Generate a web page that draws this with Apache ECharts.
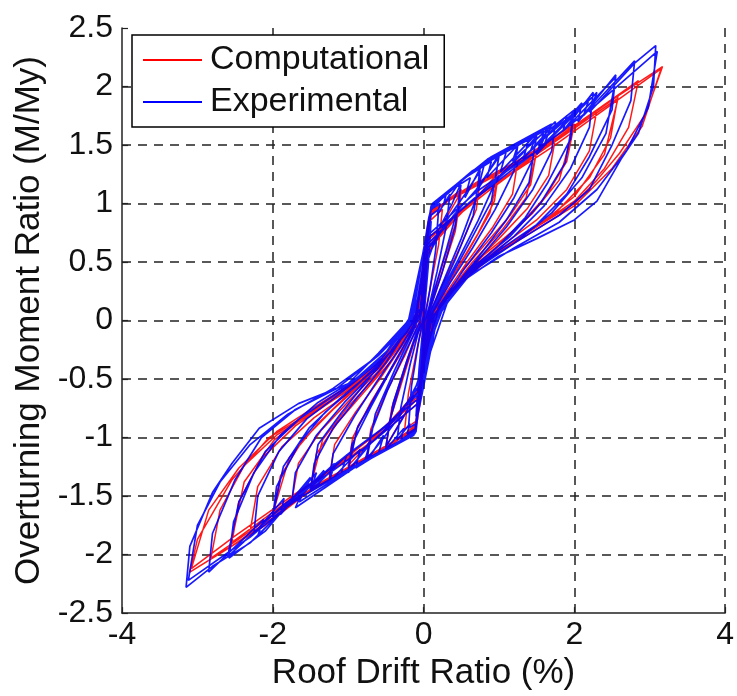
<!DOCTYPE html>
<html>
<head>
<meta charset="utf-8">
<script src="https://cdn.jsdelivr.net/npm/echarts@6/dist/echarts.min.js"></script>
<style>
  html, body { margin: 0; padding: 0; background: #fff; }
  #main { width: 737px; height: 696px; }
</style>
</head>
<body>
<div id="main"></div>
<script>
// axis ticks
let xTicks = [-4, -2, 0, 2, 4];
let yTicks = [-2.5, -2, -1.5, -1, -0.5, 0, 0.5, 1, 1.5, 2, 2.5];

// experimental loops, [drift %, M/My]
let exp1 = [[0,0],[0.05,0.6],[0.1,0.85],[0.06,0.45],[0,0],[-0.05,-0.55],[-0.1,-0.82],[-0.06,-0.42],[0,0]];
let exp2 = [[0.05,0.7],[0.1,0.9],[0.2,0.95],[0.16,0.6],[0.08,0.25],[0,-0.05],[-0.05,-0.62],[-0.1,-0.88],[-0.2,-0.92],[-0.16,-0.56],[-0.07,-0.2],[0,0.05]];
let exp3 = [[0.05,0.75],[0.1,0.95],[0.22,1.0],[0.18,0.9],[0.35,1.08],[0.3,0.8],[0.18,0.42],[0.06,0.08],[0,-0.3],[-0.1,-0.92],[-0.22,-0.97],[-0.18,-0.88],[-0.35,-1.02],[-0.3,-0.74],[-0.18,-0.38],[-0.05,-0.05]];
let exp4 = [[0.04,0.62],[0.09,0.94],[0.3,1.08],[0.26,0.98],[0.5,1.2],[0.45,0.95],[0.3,0.6],[0.14,0.25],[0.02,0],[-0.05,-0.6],[-0.1,-0.93],[-0.3,-1.02],[-0.26,-0.92],[-0.5,-1.1],[-0.45,-0.86],[-0.3,-0.52],[-0.13,-0.18],[0,0]];
let exp5 = [[0.05,0.5],[0.2,0.78],[0.38,1.0],[0.5,1.18],[0.42,0.8],[0.25,0.42],[0.08,0.08],[-0.04,-0.45],[-0.2,-0.75],[-0.38,-0.95],[-0.5,-1.08],[-0.4,-0.7],[-0.2,-0.3],[-0.04,0]];
let exp6 = [[0.05,0.75],[0.1,0.96],[0.4,1.13],[0.62,1.22],[0.55,1.05],[0.75,1.3],[0.7,1.05],[0.5,0.7],[0.28,0.36],[0.08,0.05],[-0.04,-0.6],[-0.1,-0.94],[-0.4,-1.07],[-0.6,-1.14],[-0.53,-0.98],[-0.75,-1.2],[-0.7,-0.96],[-0.48,-0.6],[-0.25,-0.28],[-0.04,0]];
let exp7 = [[0.06,0.55],[0.3,0.85],[0.55,1.08],[0.75,1.28],[0.66,0.9],[0.42,0.52],[0.15,0.14],[-0.05,-0.5],[-0.3,-0.8],[-0.55,-1.02],[-0.75,-1.18],[-0.64,-0.8],[-0.38,-0.42],[-0.1,-0.04]];
let exp8 = [[0.05,0.78],[0.1,0.97],[0.5,1.2],[0.8,1.32],[0.72,1.12],[1.0,1.42],[0.95,1.18],[0.72,0.85],[0.46,0.52],[0.2,0.2],[0.04,-0.05],[-0.03,-0.5],[-0.1,-0.95],[-0.5,-1.1],[-0.78,-1.2],[-0.7,-1.02],[-1.0,-1.3],[-0.95,-1.06],[-0.7,-0.74],[-0.45,-0.44],[-0.18,-0.12],[-0.02,0.1]];
let exp9 = [[0.05,0.6],[0.4,0.9],[0.7,1.12],[1.0,1.4],[0.9,1.02],[0.62,0.68],[0.32,0.32],[0.06,0.02],[-0.05,-0.55],[-0.4,-0.86],[-0.7,-1.05],[-1.0,-1.28],[-0.88,-0.92],[-0.6,-0.6],[-0.3,-0.26],[-0.03,0.05]];
let exp10 = [[0.06,0.8],[0.1,0.98],[0.55,1.22],[0.9,1.36],[0.84,1.22],[1.25,1.5],[1.2,1.28],[0.95,0.95],[0.65,0.62],[0.35,0.32],[0.1,0.04],[-0.04,-0.55],[-0.11,-0.95],[-0.55,-1.12],[-0.9,-1.26],[-0.84,-1.1],[-1.25,-1.38],[-1.2,-1.14],[-0.92,-0.82],[-0.62,-0.52],[-0.3,-0.22],[-0.05,0.05]];
let exp11 = [[0.06,0.8],[0.1,0.98],[0.6,1.25],[1.1,1.45],[1.02,1.27],[1.5,1.6],[1.45,1.38],[1.2,1.05],[0.9,0.75],[0.55,0.45],[0.2,0.12],[0.02,-0.3],[-0.11,-0.95],[-0.6,-1.14],[-1.1,-1.32],[-1.02,-1.15],[-1.5,-1.46],[-1.45,-1.22],[-1.2,-0.92],[-0.88,-0.66],[-0.5,-0.36],[-0.2,-0.06],[-0.02,0.3]];
let exp12 = [[0.05,0.62],[0.45,0.92],[0.95,1.2],[1.3,1.42],[1.5,1.58],[1.4,1.18],[1.1,0.86],[0.7,0.52],[0.3,0.2],[0.04,-0.05],[-0.06,-0.6],[-0.45,-0.88],[-0.95,-1.12],[-1.3,-1.3],[-1.5,-1.44],[-1.4,-1.06],[-1.08,-0.78],[-0.68,-0.46],[-0.28,-0.14],[0,0.1]];
let exp13 = [[0.06,0.82],[0.1,0.98],[0.65,1.28],[1.25,1.5],[1.18,1.36],[1.75,1.7],[1.7,1.45],[1.45,1.12],[1.1,0.8],[0.7,0.5],[0.3,0.2],[0.03,-0.2],[-0.11,-0.96],[-0.65,-1.16],[-1.25,-1.38],[-1.18,-1.22],[-1.75,-1.56],[-1.7,-1.3],[-1.42,-0.98],[-1.05,-0.7],[-0.62,-0.42],[-0.25,-0.1],[-0.03,0.25]];
let exp14 = [[0.06,0.82],[0.1,0.98],[0.7,1.3],[1.4,1.55],[1.32,1.38],[1.65,1.62],[2.0,1.8],[1.95,1.55],[1.65,1.18],[1.35,0.88],[1.0,0.64],[0.55,0.38],[0.15,0.06],[0,-0.45],[-0.11,-0.96],[-0.7,-1.17],[-1.4,-1.42],[-1.32,-1.28],[-1.65,-1.52],[-2.0,-1.68],[-1.95,-1.42],[-1.65,-1.05],[-1.3,-0.78],[-0.9,-0.56],[-0.45,-0.28],[-0.1,0.02]];
let exp15 = [[0.05,0.65],[0.5,0.95],[1.0,1.22],[1.5,1.5],[2.0,1.78],[1.88,1.35],[1.55,1.0],[1.15,0.72],[0.7,0.48],[0.25,0.15],[0.03,-0.1],[-0.06,-0.62],[-0.5,-0.9],[-1.0,-1.14],[-1.5,-1.4],[-2.0,-1.66],[-1.86,-1.25],[-1.52,-0.92],[-1.1,-0.66],[-0.65,-0.42],[-0.22,-0.1],[0,0.15]];
let exp16 = [[0.07,0.84],[0.11,0.99],[0.75,1.32],[1.5,1.6],[1.42,1.45],[1.9,1.75],[1.85,1.62],[2.25,1.95],[2.2,1.65],[1.95,1.3],[1.6,0.98],[1.2,0.72],[0.75,0.48],[0.3,0.18],[0.02,-0.3],[-0.12,-0.96],[-0.75,-1.18],[-1.5,-1.45],[-1.42,-1.3],[-1.9,-1.66],[-1.85,-1.52],[-2.25,-1.82],[-2.2,-1.5],[-1.92,-1.12],[-1.55,-0.84],[-1.1,-0.62],[-0.6,-0.36],[-0.18,-0.02]];
let exp17 = [[0.07,0.85],[0.11,0.99],[0.8,1.35],[1.6,1.62],[1.5,1.42],[2.1,1.86],[2.05,1.7],[2.55,2.1],[2.5,1.8],[2.2,1.4],[1.9,1.08],[1.5,0.82],[1.0,0.6],[0.5,0.36],[0.15,0.05],[0,-0.5],[-0.12,-0.97],[-0.8,-1.2],[-1.6,-1.5],[-1.5,-1.34],[-2.1,-1.8],[-2.58,-2.03],[-2.52,-1.72],[-2.25,-1.3],[-1.9,-0.98],[-1.4,-0.7],[-0.9,-0.5],[-0.45,-0.24],[-0.12,0.02]];
let exp18 = [[0.05,0.7],[0.6,1.0],[1.2,1.3],[1.9,1.65],[2.55,2.08],[2.42,1.6],[2.1,1.22],[1.7,0.92],[1.2,0.66],[0.65,0.42],[0.2,0.08],[-0.06,-0.66],[-0.6,-0.95],[-1.2,-1.24],[-1.9,-1.6],[-2.6,-2.02],[-2.45,-1.55],[-2.1,-1.12],[-1.65,-0.84],[-1.1,-0.6],[-0.55,-0.32],[-0.08,0.12]];
let exp19 = [[0.07,0.86],[0.12,1.0],[0.85,1.38],[1.65,1.65],[1.55,1.48],[2.2,1.9],[2.12,1.75],[2.8,2.22],[2.75,1.88],[2.5,1.5],[2.2,1.12],[1.8,0.9],[1.3,0.7],[0.8,0.5],[0.35,0.22],[0.02,-0.4],[-0.12,-0.97],[-0.85,-1.22],[-1.65,-1.55],[-1.55,-1.4],[-2.2,-1.84],[-2.12,-1.7],[-2.85,-2.15],[-2.8,-1.82],[-2.5,-1.36],[-2.15,-1.0],[-1.7,-0.76],[-1.15,-0.58],[-0.6,-0.3],[-0.15,0.0]];
let exp20 = [[0.07,0.88],[0.12,1.0],[0.9,1.4],[1.7,1.68],[1.6,1.5],[2.3,1.95],[2.2,1.78],[2.8,2.2],[3.08,2.35],[3.05,2.0],[2.85,1.6],[2.62,1.38],[2.3,1.02],[2.0,0.86],[1.5,0.7],[1.0,0.55],[0.5,0.33],[0.18,0.02],[0.02,-0.5],[-0.13,-0.98],[-0.9,-1.25],[-1.7,-1.6],[-1.6,-1.45],[-2.3,-1.9],[-2.8,-2.1],[-3.15,-2.28],[-3.1,-1.93],[-2.8,-1.47],[-2.54,-1.22],[-2.18,-0.92],[-1.66,-0.71],[-1.0,-0.54],[-0.6,-0.28],[-0.2,0.0]];
let exp21 = [[0.04,0.72],[0.7,1.1],[1.5,1.45],[2.3,1.85],[3.1,2.3],[2.98,1.82],[2.7,1.46],[2.3,1.12],[1.8,0.84],[1.2,0.62],[0.6,0.38],[0.15,0.02],[-0.06,-0.7],[-0.7,-1.05],[-1.5,-1.42],[-2.3,-1.85],[-3.12,-2.22],[-3.0,-1.75],[-2.7,-1.38],[-2.3,-1.06],[-1.8,-0.8],[-1.2,-0.58],[-0.6,-0.3],[-0.1,0.05]];

// computational loops
let comp1 = [[0,0],[0.04,0.6],[0.08,0.85],[0.25,0.95],[0.2,0.65],[0.08,0.25],[0,0],[-0.04,-0.6],[-0.08,-0.85],[-0.25,-0.93],[-0.2,-0.62],[-0.08,-0.22],[0,0]];
let comp2 = [[0.05,0.72],[0.09,0.9],[0.3,1.02],[0.5,1.12],[0.45,0.88],[0.3,0.58],[0.12,0.2],[0.01,-0.02],[-0.05,-0.7],[-0.09,-0.88],[-0.3,-1.0],[-0.5,-1.1],[-0.45,-0.86],[-0.3,-0.55],[-0.12,-0.18],[0,0.02]];
let comp3 = [[0.05,0.55],[0.25,0.82],[0.5,1.1],[0.42,0.76],[0.22,0.36],[0.03,0],[-0.05,-0.55],[-0.25,-0.8],[-0.5,-1.08],[-0.42,-0.74],[-0.22,-0.34],[-0.02,0]];
let comp4 = [[0.05,0.74],[0.1,0.91],[0.4,1.06],[0.75,1.2],[0.7,0.95],[0.5,0.65],[0.26,0.32],[0.06,0.03],[-0.05,-0.72],[-0.1,-0.9],[-0.4,-1.04],[-0.75,-1.18],[-0.7,-0.93],[-0.5,-0.62],[-0.25,-0.3],[-0.05,0]];
let comp5 = [[0.05,0.75],[0.1,0.92],[0.5,1.1],[1.0,1.28],[0.94,1.02],[0.72,0.74],[0.45,0.45],[0.18,0.14],[0,-0.3],[-0.1,-0.9],[-0.5,-1.08],[-1.0,-1.25],[-0.94,-1.0],[-0.7,-0.7],[-0.42,-0.4],[-0.15,-0.1],[0,0.3]];
let comp6 = [[0.06,0.6],[0.4,0.85],[0.7,1.05],[1.0,1.27],[0.88,0.92],[0.6,0.6],[0.3,0.28],[0.05,0],[-0.05,-0.58],[-0.4,-0.83],[-0.7,-1.03],[-1.0,-1.24],[-0.87,-0.9],[-0.58,-0.58],[-0.28,-0.26],[-0.02,0.1]];
let comp7 = [[0.06,0.77],[0.1,0.92],[0.55,1.12],[1.25,1.36],[1.18,1.08],[0.92,0.8],[0.6,0.52],[0.28,0.22],[0.04,-0.1],[-0.1,-0.9],[-0.55,-1.1],[-1.25,-1.34],[-1.18,-1.06],[-0.9,-0.78],[-0.58,-0.5],[-0.25,-0.18],[-0.02,0.2]];
let comp8 = [[0.06,0.78],[0.1,0.93],[0.6,1.14],[1.0,1.28],[1.5,1.45],[1.42,1.16],[1.15,0.9],[0.8,0.64],[0.45,0.38],[0.12,0.06],[0,-0.35],[-0.1,-0.91],[-0.6,-1.12],[-1.0,-1.26],[-1.5,-1.43],[-1.42,-1.14],[-1.15,-0.88],[-0.8,-0.62],[-0.42,-0.34],[-0.1,-0.02]];
let comp9 = [[0.05,0.62],[0.5,0.92],[1.0,1.18],[1.5,1.44],[1.36,1.05],[1.05,0.78],[0.65,0.5],[0.28,0.2],[0.02,-0.05],[-0.06,-0.6],[-0.5,-0.9],[-1.0,-1.16],[-1.5,-1.42],[-1.34,-1.02],[-1.02,-0.75],[-0.62,-0.47],[-0.25,-0.16],[0,0.1]];
let comp10 = [[0.06,0.79],[0.1,0.93],[0.65,1.15],[1.2,1.35],[1.75,1.56],[1.66,1.24],[1.38,0.96],[1.0,0.7],[0.6,0.44],[0.22,0.14],[0.02,-0.3],[-0.1,-0.92],[-0.65,-1.14],[-1.2,-1.33],[-1.75,-1.54],[-1.66,-1.22],[-1.36,-0.94],[-0.98,-0.68],[-0.58,-0.42],[-0.2,-0.1],[0,0.2]];
let comp11 = [[0.06,0.8],[0.1,0.93],[0.7,1.17],[1.3,1.38],[2.0,1.68],[1.9,1.36],[1.62,1.06],[1.25,0.8],[0.8,0.56],[0.35,0.26],[0.08,0.02],[0,-0.4],[-0.1,-0.92],[-0.7,-1.15],[-1.3,-1.36],[-2.0,-1.66],[-1.9,-1.33],[-1.6,-1.02],[-1.2,-0.76],[-0.75,-0.5],[-0.3,-0.2],[-0.05,0.05]];
let comp12 = [[0.05,0.65],[0.6,0.98],[1.3,1.32],[2.0,1.67],[1.8,1.2],[1.45,0.92],[1.0,0.65],[0.5,0.36],[0.08,0],[-0.06,-0.64],[-0.6,-0.96],[-1.3,-1.3],[-2.0,-1.65],[-1.78,-1.17],[-1.4,-0.88],[-0.95,-0.6],[-0.45,-0.3],[-0.03,0.08]];
let comp13 = [[0.06,0.81],[0.11,0.94],[0.75,1.18],[1.45,1.42],[2.3,1.8],[2.2,1.45],[1.9,1.12],[1.5,0.86],[1.0,0.62],[0.55,0.38],[0.15,0.06],[0,-0.4],[-0.11,-0.93],[-0.75,-1.16],[-1.45,-1.42],[-2.3,-1.8],[-2.2,-1.42],[-1.88,-1.08],[-1.45,-0.83],[-0.95,-0.6],[-0.5,-0.36],[-0.1,0]];
let comp14 = [[0.06,0.82],[0.11,0.94],[0.8,1.2],[1.63,1.49],[2.07,1.69],[2.58,1.92],[2.48,1.56],[2.2,1.22],[1.75,0.92],[1.25,0.7],[0.75,0.48],[0.3,0.22],[0.08,0],[-0.06,-0.6],[-0.11,-0.93],[-0.8,-1.18],[-1.6,-1.5],[-2.1,-1.73],[-2.55,-1.93],[-2.45,-1.55],[-2.15,-1.18],[-1.7,-0.9],[-1.2,-0.68],[-0.7,-0.45],[-0.25,-0.14],[-0.04,0.1]];
let comp15 = [[0.05,0.68],[0.7,1.05],[1.5,1.42],[2.58,1.9],[2.4,1.42],[2.0,1.06],[1.5,0.8],[0.95,0.57],[0.45,0.3],[0.06,-0.02],[-0.06,-0.66],[-0.7,-1.04],[-1.5,-1.4],[-2.55,-1.9],[-2.38,-1.38],[-1.98,-1.02],[-1.45,-0.76],[-0.9,-0.53],[-0.4,-0.25],[0,0.1]];
let comp16 = [[0.06,0.83],[0.12,0.95],[0.85,1.21],[1.65,1.5],[2.3,1.8],[2.85,2.05],[2.72,1.65],[2.4,1.3],[2.0,1.02],[1.5,0.8],[1.0,0.6],[0.5,0.35],[0.12,0.02],[0,-0.4],[-0.12,-0.94],[-0.85,-1.2],[-1.65,-1.5],[-2.3,-1.8],[-2.82,-2.03],[-2.7,-1.62],[-2.38,-1.24],[-1.95,-0.98],[-1.45,-0.78],[-0.95,-0.58],[-0.45,-0.32],[-0.1,0]];
let comp17 = [[0.06,0.84],[0.12,0.95],[0.9,1.22],[1.63,1.49],[2.07,1.69],[2.58,1.92],[3.17,2.17],[2.95,1.77],[2.6,1.43],[2.3,1.2],[2.0,1.0],[1.5,0.8],[1.0,0.6],[0.5,0.35],[0.13,0.03],[0,-0.4],[-0.12,-0.94],[-0.9,-1.22],[-1.6,-1.5],[-2.1,-1.75],[-2.6,-1.95],[-3.1,-2.15],[-3.0,-1.87],[-2.54,-1.36],[-2.05,-1.0],[-1.53,-0.8],[-1.0,-0.6],[-0.5,-0.35],[-0.12,-0.02]];
let comp18 = [[0.05,0.7],[0.8,1.1],[1.7,1.48],[2.5,1.85],[3.15,2.15],[2.9,1.66],[2.5,1.3],[2.0,0.98],[1.4,0.74],[0.8,0.5],[0.3,0.2],[0.04,-0.05],[-0.06,-0.7],[-0.8,-1.1],[-1.7,-1.48],[-2.5,-1.84],[-3.08,-2.12],[-2.85,-1.62],[-2.45,-1.26],[-1.95,-0.95],[-1.35,-0.7],[-0.75,-0.46],[-0.25,-0.12],[0,0]];

let experimental = [].concat(exp1, exp2, exp3, exp4, exp5, exp6, exp7, exp8, exp9, exp10, exp11, exp12, exp13, exp14, exp15, exp16, exp17, exp18, exp19, exp20, exp21);
let computational = [].concat(comp1, comp2, comp3, comp4, comp5, comp6, comp7, comp8, comp9, comp10, comp11, comp12, comp13, comp14, comp15, comp16, comp17, comp18);

let font = 'Liberation Sans, Arial, sans-serif';
let dashed = { show: true, lineStyle: { color: '#222', width: 1.5, type: [9, 7] } };

var myChart = echarts.init(document.getElementById('main'), null, { renderer: 'canvas' });

var option = {
    animation: false,
    backgroundColor: '#fff',
    grid: { left: 122, right: 8, top: 28, bottom: 79, containLabel: false },
    legend: {
        data: ['Computational', 'Experimental'],
        orient: 'vertical',
        left: 132,
        top: 35,
        icon: 'rect',
        itemWidth: 59,
        itemHeight: 2,
        itemGap: 8,
        padding: [8, 15, 8, 11],
        borderColor: '#000',
        borderWidth: 1.5,
        backgroundColor: '#fff',
        z: 10,
        textStyle: { fontSize: 34, fontFamily: font, color: '#111', padding: [0, 0, 0, 3] }
    },
    xAxis: {
        type: 'value',
        min: xTicks[0],
        max: xTicks[xTicks.length - 1],
        interval: 2,
        name: 'Roof Drift Ratio (%)',
        nameLocation: 'middle',
        nameGap: 38,
        nameTextStyle: { fontSize: 35, fontFamily: font, color: '#111' },
        axisLine: { onZero: false, lineStyle: { color: '#222', width: 1.5 } },
        axisTick: { inside: true, length: 6, lineStyle: { color: '#222', width: 1.2 } },
        axisLabel: { fontSize: 32, fontFamily: font, color: '#111', margin: 6 },
        splitLine: Object.assign({ showMinLine: false, showMaxLine: true }, dashed)
    },
    yAxis: {
        type: 'value',
        min: yTicks[0],
        max: yTicks[yTicks.length - 1],
        interval: 0.5,
        name: 'Overturning Moment Ratio (M/My)',
        nameLocation: 'middle',
        nameRotate: 90,
        nameGap: 74,
        nameTextStyle: { fontSize: 35, fontFamily: font, color: '#111' },
        axisLine: { show: true, onZero: false, lineStyle: { color: '#222', width: 1.5 } },
        axisTick: { show: true, inside: true, length: 6, lineStyle: { color: '#222', width: 1.2 } },
        axisLabel: { fontSize: 32, fontFamily: font, color: '#111', margin: 9 },
        splitLine: Object.assign({ showMinLine: false, showMaxLine: false }, dashed)
    },
    series: [
        {
            name: 'Computational',
            type: 'line',
            data: computational,
            showSymbol: false,
            symbol: 'none',
            color: '#ff0000',
            lineStyle: { color: '#ff0000', width: 1.5, opacity: 0.9 },
            z: 3
        },
        {
            name: 'Experimental',
            type: 'line',
            data: experimental,
            showSymbol: false,
            symbol: 'none',
            color: '#0000ff',
            lineStyle: { color: '#0000ff', width: 1.7, opacity: 0.9 },
            z: 4
        }
    ]
};

myChart.setOption(option);
</script>
</body>
</html>
